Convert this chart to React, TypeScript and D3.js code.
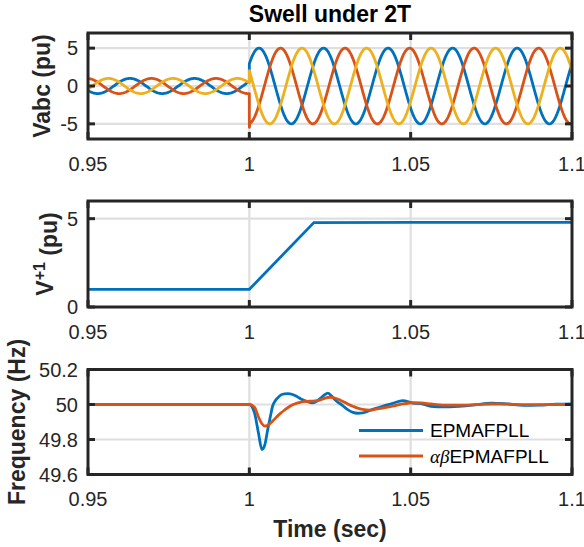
import React from "react";
import * as d3 from "d3";

// ---------- DATA ----------
const xTicks = [0.95, 1, 1.05, 1.1];
const xTickLabels = ["0.95", "1", "1.05", "1.1"];

// Panel 1: three-phase voltages (sinusoids, parameters)
const phaseNames = ["a", "b", "c"];
const phaseShiftDeg = [0, -120, 120];
const startPhaseDeg = 36; // phase of phase a at t = 0
const gridFreq = 50;
const ampBefore = [1, 1, 1];
const ampAfter = [5, 5, 5];
const swellTime = 1.0;
const orangeSpike = [{ t: 1.0, v: -5.45 }];
const vabcYTicks = [-5, 0, 5];

// Panel 2: positive-sequence magnitude
const vposTime = [0.95, 1.0, 1.02, 1.05, 1.1];
const vposValue = [1.0, 1.0, 4.78, 4.79, 4.79];
const vposYTicks = [0, 5];

// Panel 3: frequency
const freqTime = [0.95, 1.0, 1.0016, 1.0028, 1.0039, 1.0048, 1.0057, 1.0065, 1.0072, 1.008, 1.0088, 1.0098, 1.0109, 1.012, 1.0134, 1.0148, 1.016, 1.0178, 1.0196, 1.021, 1.0222, 1.0233, 1.0243, 1.0254, 1.0264, 1.0275, 1.0285, 1.0295, 1.0305, 1.0321, 1.0336, 1.0351, 1.0372, 1.0392, 1.0413, 1.0444, 1.0475, 1.0507, 1.0532, 1.0563, 1.06, 1.065, 1.07, 1.075, 1.08, 1.085, 1.09, 1.095, 1.1];
const freqEPMAFPLL = [50, 50, 49.952, 49.84, 49.743, 49.77, 49.857, 49.93, 49.99, 50.02, 50.038, 50.055, 50.061, 50.062, 50.057, 50.045, 50.032, 50.018, 50.01, 50.02, 50.038, 50.055, 50.065, 50.05, 50.03, 50.012, 50.0, 49.985, 49.971, 49.955, 49.95, 49.952, 49.965, 49.978, 49.99, 50.006, 50.022, 50.008, 50.005, 49.99, 49.986, 49.99, 49.998, 50.008, 50.003, 49.995, 49.996, 50.002, 50.004];
const freqAlphaBeta = [50, 50, 49.985, 49.93, 49.89, 49.877, 49.882, 49.893, 49.905, 49.92, 49.935, 49.952, 49.968, 49.983, 49.998, 50.008, 50.014, 50.018, 50.019, 50.022, 50.028, 50.035, 50.04, 50.041, 50.037, 50.03, 50.022, 50.013, 50.003, 49.99, 49.979, 49.972, 49.968, 49.973, 49.98, 49.99, 50.003, 50.01, 50.009, 50.003, 49.997, 49.996, 49.999, 50.003, 50.002, 49.999, 49.999, 50.0, 50.0];
const freqYTicks = [49.6, 49.8, 50, 50.2];
const freqYTickLabels = ["49.6", "49.8", "50", "50.2"];
const legendLabels = ["EPMAFPLL", "EPMAFPLL"];

// ---------- STYLE ----------
const W = 584;
const H = 547;
const X0 = 88;
const X1 = 572;
const COLORS = ["#0072BD", "#D95319", "#EDB120"];
const AX = "#262626";
const GRID = "#dfdfdf";
const FONT = "'Liberation Sans', Arial, Helvetica, sans-serif";
const TICK_FS = 20;
const LABEL_FS = 23;
const LEG_FS = 19;
const LW = 2.8;
const FW = 3;

const x = d3.scaleLinear().domain([0.95, 1.1]).range([X0, X1]);

const panels = [
  { top: 33, bottom: 139, domain: [-7, 7] },
  { top: 201, bottom: 307, domain: [0, 6] },
  { top: 369.5, bottom: 474.5, domain: [49.6, 50.2] },
];
const yScales = panels.map((p) =>
  d3.scaleLinear().domain(p.domain).range([p.bottom, p.top])
);

function sampleTimes() {
  const ts: number[] = [];
  for (let t = 0.95; t <= 1.1000001; t += 0.0002) ts.push(+t.toFixed(5));
  return ts;
}

function Grid({ i, yTicks }: { i: number; yTicks: number[] }) {
  const p = panels[i];
  const y = yScales[i];
  return (
    <g>
      {xTicks.slice(1, -1).map((t) => (
        <line key={"gx" + t} x1={x(t)} x2={x(t)} y1={p.top} y2={p.bottom} stroke={GRID} strokeWidth={2.2} />
      ))}
      {yTicks.map((t) => (
        <line key={"gy" + t} x1={X0} x2={X1} y1={y(t)} y2={y(t)} stroke={GRID} strokeWidth={2.2} />
      ))}
    </g>
  );
}

function Axes({ i, yTicks, yLabels }: { i: number; yTicks: number[]; yLabels: string[] }) {
  const p = panels[i];
  const y = yScales[i];
  const tl = 7;
  return (
    <g>
      <rect x={X0} y={p.top} width={X1 - X0} height={p.bottom - p.top} fill="none" stroke={AX} strokeWidth={FW} />
      {xTicks.map((t) => (
        <g key={"tx" + t}>
          <line x1={x(t)} x2={x(t)} y1={p.bottom} y2={p.bottom - tl} stroke={AX} strokeWidth={FW} />
          <line x1={x(t)} x2={x(t)} y1={p.top} y2={p.top + tl} stroke={AX} strokeWidth={FW} />
        </g>
      ))}
      {yTicks.map((t) => (
        <g key={"ty" + t}>
          <line x1={X0} x2={X0 + tl} y1={y(t)} y2={y(t)} stroke={AX} strokeWidth={FW} />
          <line x1={X1} x2={X1 - tl} y1={y(t)} y2={y(t)} stroke={AX} strokeWidth={FW} />
        </g>
      ))}
      {xTicks.map((t, k) => (
        <text key={"lx" + t} x={x(t)} y={p.bottom + 31.5} textAnchor="middle" fontSize={TICK_FS} fill={AX} fontFamily={FONT}>
          {xTickLabels[k]}
        </text>
      ))}
      {yTicks.map((t, k) => (
        <text key={"ly" + t} x={78} y={y(t)} dy="0.36em" textAnchor="end" fontSize={TICK_FS} fill={AX} fontFamily={FONT}>
          {yLabels[k]}
        </text>
      ))}
    </g>
  );
}

export default function App() {
  const ts = sampleTimes();
  const y0 = yScales[0];
  const phaseLines = phaseNames.map((_, k) => {
    const pts: [number, number][] = [];
    const shift = (phaseShiftDeg[k] + startPhaseDeg) * Math.PI / 180;
    for (const t of ts) {
      if (t < swellTime) pts.push([t, ampBefore[k] * Math.sin(2 * Math.PI * gridFreq * t + shift)]);
    }
    const tb = swellTime - 1e-7;
    pts.push([tb, ampBefore[k] * Math.sin(2 * Math.PI * gridFreq * tb + shift)]);
    if (k === 1) orangeSpike.forEach((s) => pts.push([s.t, s.v]));
    for (const t of ts) {
      if (t >= swellTime) {
        if (k === 1 && t === swellTime) continue;
        pts.push([t, ampAfter[k] * Math.sin(2 * Math.PI * gridFreq * t + shift)]);
      }
    }
    return d3.line<[number, number]>().x((d) => x(d[0])).y((d) => y0(d[1]))(pts) || "";
  });

  const y1 = yScales[1];
  const vposPath = d3.line<number>().x((_, j) => x(vposTime[j])).y((d) => y1(d))(vposValue) || "";

  const y2 = yScales[2];
  const fLine = d3.line<number>().x((_, j) => x(freqTime[j])).y((d) => y2(d)).curve(d3.curveMonotoneX);
  const fBlue = fLine(freqEPMAFPLL) || "";
  const fRed = fLine(freqAlphaBeta) || "";

  const clip = (i: number) => `clip${i}`;
  const mid = (i: number) => (panels[i].top + panels[i].bottom) / 2;

  return (
    <svg width={W} height={H} style={{ position: "absolute", left: 0, top: 0, background: "#fff" }}>
      <defs>
        {panels.map((p, i) => (
          <clipPath id={clip(i)} key={i}>
            <rect x={X0} y={p.top} width={X1 - X0} height={p.bottom - p.top} />
          </clipPath>
        ))}
      </defs>
      <rect x={0} y={0} width={W} height={H} fill="#fff" />

      {/* Title */}
      <text x={(X0 + X1) / 2} y={22} textAnchor="middle" fontSize={LABEL_FS} fontWeight="bold" fontFamily={FONT} fill="#000">
        Swell under 2T
      </text>

      {/* Panel 1 */}
      <Grid i={0} yTicks={vabcYTicks} />
      <g clipPath={`url(#${clip(0)})`}>
        {phaseLines.map((d, k) => (
          <path key={k} d={d} fill="none" stroke={COLORS[k]} strokeWidth={LW} strokeLinejoin="round" />
        ))}
      </g>
      <Axes i={0} yTicks={vabcYTicks} yLabels={vabcYTicks.map(String)} />
      <text transform={`translate(50,${mid(0)}) rotate(-90)`} textAnchor="middle" fontSize={LABEL_FS} fontWeight="bold" fontFamily={FONT} fill={AX}>
        Vabc (pu)
      </text>

      {/* Panel 2 */}
      <Grid i={1} yTicks={vposYTicks} />
      <g clipPath={`url(#${clip(1)})`}>
        <path d={vposPath} fill="none" stroke={COLORS[0]} strokeWidth={LW} />
      </g>
      <Axes i={1} yTicks={vposYTicks} yLabels={vposYTicks.map(String)} />
      <text transform={`translate(53,${mid(1)}) rotate(-90)`} textAnchor="middle" fontSize={LABEL_FS} fontWeight="bold" fontFamily={FONT} fill={AX}>
        V<tspan dy="-0.5em" fontSize={16}>+1</tspan><tspan dy="0.5em"> (pu)</tspan>
      </text>

      {/* Panel 3 */}
      <Grid i={2} yTicks={freqYTicks} />
      <g clipPath={`url(#${clip(2)})`}>
        <path d={fBlue} fill="none" stroke={COLORS[0]} strokeWidth={LW} />
        <path d={fRed} fill="none" stroke={COLORS[1]} strokeWidth={LW} />
      </g>
      <Axes i={2} yTicks={freqYTicks} yLabels={freqYTickLabels} />
      <text transform={`translate(25,${mid(2)}) rotate(-90)`} textAnchor="middle" fontSize={LABEL_FS} fontWeight="bold" fontFamily={FONT} fill={AX}>
        Frequency (Hz)
      </text>

      {/* Legend */}
      {legendLabels.map((lab, k) => {
        const ly = 430.5 + k * 25.5;
        return (
          <g key={k}>
            <line x1={359} x2={423} y1={ly} y2={ly} stroke={COLORS[k]} strokeWidth={LW} />
            <text x={430} y={ly} dy="0.36em" fontSize={LEG_FS} fontFamily={FONT} fill="#000">
              {k === 1 ? (
                <tspan fontFamily="'Liberation Serif', 'DejaVu Serif', serif" fontStyle="italic">αβ</tspan>
              ) : null}
              {lab}
            </text>
          </g>
        );
      })}

      {/* X label */}
      <text x={(X0 + X1) / 2} y={536.5} textAnchor="middle" fontSize={LABEL_FS} fontWeight="bold" fontFamily={FONT} fill={AX}>
        Time (sec)
      </text>
    </svg>
  );
}
